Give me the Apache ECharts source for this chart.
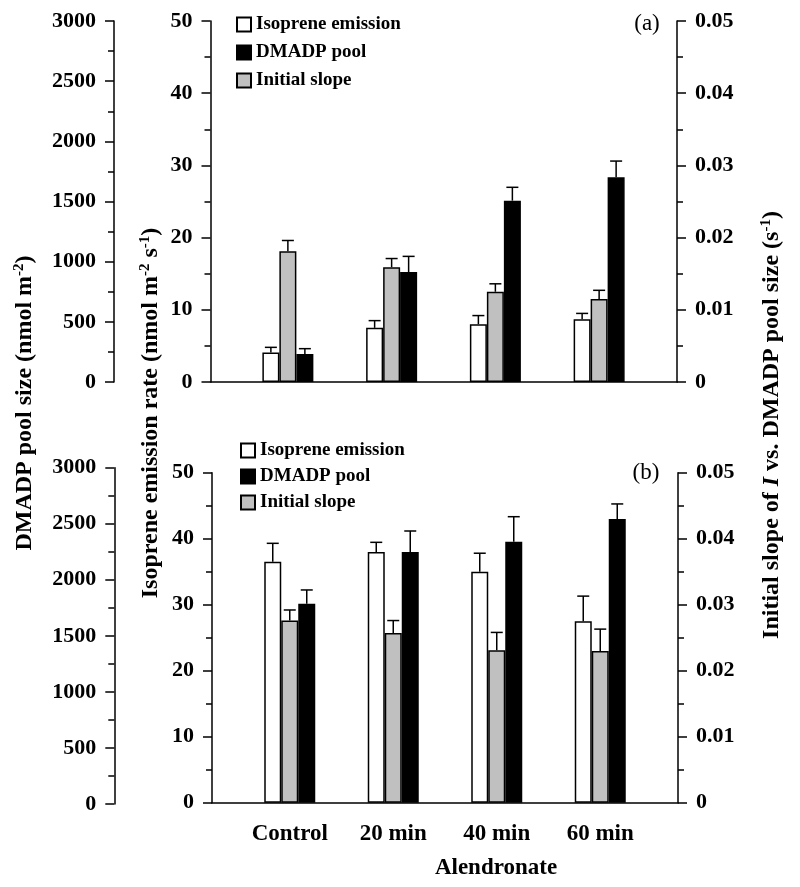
<!DOCTYPE html>
<html>
<head>
<meta charset="utf-8">
<script src="https://cdn.jsdelivr.net/npm/echarts@6/dist/echarts.min.js"></script>
<style>
    html, body { margin: 0; padding: 0; background: #fff; }
    #chart { width: 800px; height: 887px; }
</style>
</head>
<body>
<div id="chart"></div>
<script>
// groups on the x axis
var categories = ['Control', '20 min', '40 min', '60 min'];

// panel (a)
var isopreneA = [4.1, 7.5, 8.0, 8.7];
var isopreneErrA = [0.7, 1.0, 1.2, 0.8];
var slopeA = [0.0181, 0.0159, 0.0125, 0.0115];
var slopeErrA = [0.0015, 0.0012, 0.0011, 0.0012];
var dmadpA = [233, 914, 1507, 1701];
var dmadpErrA = [44, 130, 111, 135];

// panel (b)
var isopreneB = [36.5, 38.0, 35.0, 27.5];
var isopreneErrB = [2.8, 1.45, 2.8, 3.8];
var slopeB = [0.0276, 0.0257, 0.0231, 0.0230];
var slopeErrB = [0.0016, 0.0019, 0.0027, 0.0033];
var dmadpB = [1809, 2279, 2373, 2579];
var dmadpErrB = [125, 191, 227, 137];

// axis ranges [min, max, step]
var isopreneRange = [0, 50, 10];
var slopeRange = [0, 0.05, 0.01];
var dmadpRange = [0, 3000, 500];

var legendNames = ['Isoprene emission', 'DMADP pool', 'Initial slope'];

var FONT = 'Liberation Serif';
var BAR_W = 17;
var LINE = { color: '#000', width: 1.5 };

var chart = echarts.init(document.getElementById('chart'));

function valueAxis(grid, range, pos, offset, extra) {
    var ax = {
        type: 'value', gridIndex: grid, position: pos, offset: offset,
        min: range[0], max: range[1], interval: range[2],
        axisLine: { show: true, onZero: false, lineStyle: LINE },
        axisTick: { show: true, length: 9, lineStyle: LINE },
        minorTick: { show: true, splitNumber: 2, length: 6, lineStyle: LINE },
        splitLine: { show: false },
        axisLabel: {
            color: '#000', fontFamily: FONT, fontWeight: 'bold', fontSize: 22, margin: 18,
            formatter: function (v) { return String(+v.toFixed(4)); }
        }
    };
    return Object.assign(ax, extra || {});
}
function hiddenAxis(grid, type, range) {
    var ax = { type: type, gridIndex: grid, show: false, splitLine: { show: false } };
    if (range) { ax.min = range[0]; ax.max = range[1]; }
    return ax;
}

// error bar drawn above a bar; shift = horizontal offset within group
function errRender(shift) {
    return function (params, api) {
        var c = api.value(0), v = api.value(1), e = api.value(2);
        var p0 = api.coord([c, v]);
        var p1 = api.coord([c, v + e]);
        var x = p0[0] + shift;
        return {
            type: 'group',
            children: [
                { type: 'line', shape: { x1: x, y1: p0[1], x2: x, y2: p1[1] }, style: { stroke: '#000', lineWidth: 1.5 } },
                { type: 'line', shape: { x1: x - 6, y1: p1[1], x2: x + 6, y2: p1[1] }, style: { stroke: '#000', lineWidth: 1.5 } }
            ]
        };
    };
}
function errData(vals, errs) {
    return vals.map(function (v, i) { return [i, v, errs[i]]; });
}

function panelSeries(xi, yIso, ySlope, yDm, iso, isoErr, sl, slErr, dm, dmErr) {
    return [
        { name: 'Isoprene emission', type: 'bar', xAxisIndex: xi, yAxisIndex: yIso, data: iso,
          barWidth: BAR_W, barGap: '0%', itemStyle: { color: '#fff', borderColor: '#000', borderWidth: 1.5 } },
        { name: 'Initial slope', type: 'bar', xAxisIndex: xi, yAxisIndex: ySlope, data: sl,
          barWidth: BAR_W, barGap: '0%', itemStyle: { color: '#c0c0c0', borderColor: '#000', borderWidth: 1.5 } },
        { name: 'DMADP pool', type: 'bar', xAxisIndex: xi, yAxisIndex: yDm, data: dm,
          barWidth: BAR_W, barGap: '0%', itemStyle: { color: '#000', borderColor: '#000', borderWidth: 1.5 } },
        { type: 'custom', xAxisIndex: xi, yAxisIndex: yIso, renderItem: errRender(-BAR_W), data: errData(iso, isoErr), z: 5 },
        { type: 'custom', xAxisIndex: xi, yAxisIndex: ySlope, renderItem: errRender(0), data: errData(sl, slErr), z: 5 },
        { type: 'custom', xAxisIndex: xi, yAxisIndex: yDm, renderItem: errRender(BAR_W), data: errData(dm, dmErr), z: 5 }
    ];
}

var titleRich = {
    b: { fontFamily: FONT, fontWeight: 'bold', fontSize: 24, lineHeight: 26, color: '#000' },
    i: { fontFamily: FONT, fontWeight: 'bold', fontStyle: 'italic', fontSize: 24, lineHeight: 26, color: '#000' },
    s: { fontFamily: FONT, fontWeight: 'bold', fontSize: 15, lineHeight: 26, verticalAlign: 'top', color: '#000' }
};
function vTitle(x, y, text) {
    return { type: 'text', x: x, y: y, rotation: Math.PI / 2,
             style: { text: text, rich: titleRich, align: 'center', verticalAlign: 'middle' } };
}
function plainText(x, y, text, weight, size) {
    return { type: 'text', x: x, y: y,
             style: { text: text, fontFamily: FONT, fontWeight: weight, fontSize: size, fill: '#000',
                      align: 'center', verticalAlign: 'middle' } };
}

var legendBase = {
    orient: 'vertical', data: legendNames, icon: 'rect', itemWidth: 14, itemHeight: 14,
    selectedMode: false,
    textStyle: { color: '#000', fontFamily: FONT, fontWeight: 'bold', fontSize: 19 }
};

var option = {
    backgroundColor: '#fff',
    animation: false,
    grid: [
        { left: 236, top: 21, width: 415, height: 361 },      // a: bars
        { left: 210.5, top: 21, width: 466.5, height: 361 },  // a: baseline
        { left: 114, top: 21, width: 1, height: 361 },        // a: outer axis
        { left: 238, top: 472.7, width: 414, height: 330 },   // b: bars
        { left: 212, top: 472.7, width: 466, height: 330 },   // b: baseline
        { left: 114.3, top: 467.7, width: 1, height: 336.3 }  // b: outer axis
    ],
    xAxis: [
        { type: 'category', gridIndex: 0, data: categories, axisLine: { show: false },
          axisTick: { show: false }, axisLabel: { show: false } },
        { type: 'value', gridIndex: 1, min: 0, max: 1, axisLine: { show: true, lineStyle: LINE },
          axisTick: { show: false }, axisLabel: { show: false }, splitLine: { show: false } },
        hiddenAxis(2, 'value', [0, 1]),
        { type: 'category', gridIndex: 3, data: categories, axisLine: { show: false },
          axisTick: { show: false },
          axisLabel: { color: '#000', fontFamily: FONT, fontWeight: 'bold', fontSize: 23, margin: 20 } },
        { type: 'value', gridIndex: 4, min: 0, max: 1, axisLine: { show: true, lineStyle: LINE },
          axisTick: { show: false }, axisLabel: { show: false }, splitLine: { show: false } },
        hiddenAxis(5, 'value', [0, 1])
    ],
    yAxis: [
        valueAxis(0, isopreneRange, 'left', 25.5),
        valueAxis(0, slopeRange, 'right', 26),
        hiddenAxis(0, 'value', dmadpRange),
        hiddenAxis(1, 'value', [0, 1]),
        valueAxis(2, dmadpRange, 'left', 0),
        valueAxis(3, isopreneRange, 'left', 26),
        valueAxis(3, slopeRange, 'right', 26),
        hiddenAxis(3, 'value', dmadpRange),
        hiddenAxis(4, 'value', [0, 1]),
        valueAxis(5, dmadpRange, 'left', 0)
    ],
    legend: [
        Object.assign({}, legendBase, { left: 231, top: 10, itemGap: 9 }),
        Object.assign({}, legendBase, { left: 235, top: 436, itemGap: 7 })
    ],
    series: [].concat(
        panelSeries(0, 0, 1, 2, isopreneA, isopreneErrA, slopeA, slopeErrA, dmadpA, dmadpErrA),
        panelSeries(3, 5, 6, 7, isopreneB, isopreneErrB, slopeB, slopeErrB, dmadpB, dmadpErrB)
    ),
    graphic: [
        vTitle(25, 403, '{b|DMADP pool size (nmol m}{s|-2}{b|)}'),
        vTitle(151, 413, '{b|Isoprene emission rate (nmol m}{s|-2}{b| s}{s|-1}{b|)}'),
        vTitle(772, 425, '{b|Initial slope of }{i|I}{b| vs. DMADP pool size (s}{s|-1}{b|)}'),
        plainText(647, 24, '(a)', 'normal', 23),
        plainText(646, 473, '(b)', 'normal', 23),
        plainText(496, 868, 'Alendronate', 'bold', 23)
    ]
};

chart.setOption(option);
</script>
</body>
</html>
